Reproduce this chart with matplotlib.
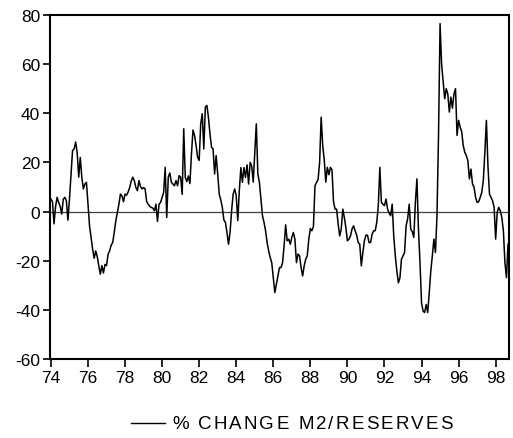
import numpy as np
import matplotlib
matplotlib.use("Agg")
import matplotlib.pyplot as plt

plt.rcParams['font.family'] = ['Liberation Sans', 'DejaVu Sans']

# Monthly series, 1974:01 onwards
start_year = 1974
series_label = "% CHANGE M2/RESERVES"
values = [
    5.1, 4, -5, 2, 5.8, 3.7, 2.1, -1, 5, 5.8, 4.4, -3.5,
    5, 14.6, 24.8, 25.5, 28.3, 24, 14, 22, 14, 9.2, 11.2, 11.9,
    3.1, -5.8, -10.5, -15.3, -19, -16, -18.3, -22.1, -25.5, -22, -25, -21.5,
    -22, -17.4, -16, -13.7, -12.6, -8.5, -3.8, -0.5, 2.9, 7.1, 6.4, 4,
    7.1, 6.7, 8, 9.8, 12.4, 14, 12.6, 9.8, 8.5, 12.6, 10.2, 9.2,
    9.8, 9.2, 4, 3, 2.1, 1.7, 1.4, 0.3, 3, -4, 3, 3.7,
    5.7, 7.8, 18, -2.4, 14, 15.7, 11.9, 11.2, 10.5, 12.6, 10.5, 14.6,
    14, 7, 33.7, 13.9, 12.2, 14.5, 11.4, 23.4, 33.2, 31, 26.9, 22.1,
    20.8, 35.7, 39.8, 25.5, 42.5, 43.2, 38.4, 31.6, 26.2, 25.5, 15.3, 22.8,
    15.3, 7.1, 4.7, 1.7, -3.4, -4.4, -8.5, -13.3, -8.5, 0.3, 7.1, 9.2,
    6.5, -3.7, 8.5, 17.9, 11.9, 17.9, 13.9, 19, 11.2, 20, 18.7, 12,
    24.1, 35.7, 15.3, 11.9, 5.1, -1.7, -4.4, -7.8, -12.6, -16, -18.7, -20.8,
    -26.9, -33, -29.6, -26.2, -22.8, -22.8, -20.8, -13.9, -5.4, -11.9, -11.2, -13.3,
    -10.5, -8.5, -11.2, -20.8, -17.3, -18, -22.8, -26.2, -22.1, -19.4, -18, -11.2,
    -6.9, -7.8, -6, 10.5, 11.9, 13, 20, 38.4, 27, 21, 12, 18,
    15, 18, 17, 4, 1, 1, -5.1, -9.9, -7.1, 1, -2.4, -6.5,
    -11.9, -11.2, -9.9, -7.1, -5.8, -7.8, -9.6, -12.6, -13.3, -22.1, -16.7, -11.9,
    -9.6, -9.6, -12.6, -12.6, -9.2, -7.8, -7.8, -4.4, 2.4, 18, 3.7, 3,
    2.4, 5.1, 1, -0.6, -1.7, 3, -9.9, -18, -24.1, -29, -27, -19.4,
    -18, -16.7, -5.8, -3, 3, -7.1, -8.2, -10.5, 3.7, 13.3, -7.1, -20.8,
    -37.1, -40.5, -41.1, -37.8, -41.1, -33, -24.1, -18, -11.2, -16.7, -1.7, 31,
    76.5, 60, 53, 45.9, 50, 47.9, 40.5, 46.6, 42.1, 47.9, 50, 31,
    37.1, 34.4, 32.5, 26.9, 24.1, 22.8, 20.7, 13.3, 17.3, 11.2, 9.9, 5.8,
    3.7, 4, 5.8, 7.8, 12.6, 24.1, 37.1, 18.7, 7.1, 5.8, 4.4, 1.7,
    -11.2, -0.3, 1.7, 0.3, -2.4, -7.8, -20.8, -26.9, -13.3,
]
x_ticks = [1974, 1976, 1978, 1980, 1982, 1984, 1986, 1988, 1990, 1992, 1994, 1996, 1998]
x_tick_labels = ["74", "76", "78", "80", "82", "84", "86", "88", "90", "92", "94", "96", "98"]
y_ticks = [-60, -40, -20, 0, 20, 40, 60, 80]

W, H = 513, 439
fig = plt.figure(figsize=(W / 100, H / 100), dpi=100)
ax = fig.add_axes([50 / W, 1 - 360 / H, (509 - 50) / W, (360 - 16) / H])

t = start_year + np.arange(len(values)) / 12.0
ax.axhline(0, color='#404040', lw=0.9, zorder=1)
ax.plot(t, values, color='black', lw=1.1, zorder=2)

ax.set_xlim(1973.95, 1998.72)
ax.set_ylim(-60, 80)
ax.set_xticks(x_ticks)
ax.set_xticklabels(x_tick_labels)
ax.set_yticks(y_ticks)
ax.set_yticklabels([str(v) for v in y_ticks])
ax.tick_params(axis='both', direction='out', length=5, width=1.2, labelsize=12.5,
               colors='black', pad=2)
ax.tick_params(axis='x', length=6)
for s in ax.spines.values():
    s.set_linewidth(1.5)

# Legend drawn below with letter-spaced text
fig.lines.append(plt.Line2D([131 / W, 165 / W], [1 - 424 / H, 1 - 424 / H],
                            transform=fig.transFigure, color='black', lw=1.0))
renderer = fig.canvas.get_renderer()
fs = 13.5
spacing = 2.1
x0 = 172.0
probe = fig.text(0, 0, "|", fontsize=fs)
wbar = probe.get_window_extent(renderer).width
probe.remove()
for i, ch in enumerate(series_label):
    if i == 0:
        pw = 0.0
    else:
        p = fig.text(0, 0, series_label[:i] + "|", fontsize=fs)
        pw = p.get_window_extent(renderer).width - wbar
        p.remove()
    if ch != " ":
        fig.text((x0 + pw + i * spacing) / W, 1 - 425 / H, ch, fontsize=fs,
                 va='center', ha='left', color='black')

fig.savefig("out.png", dpi=100)
